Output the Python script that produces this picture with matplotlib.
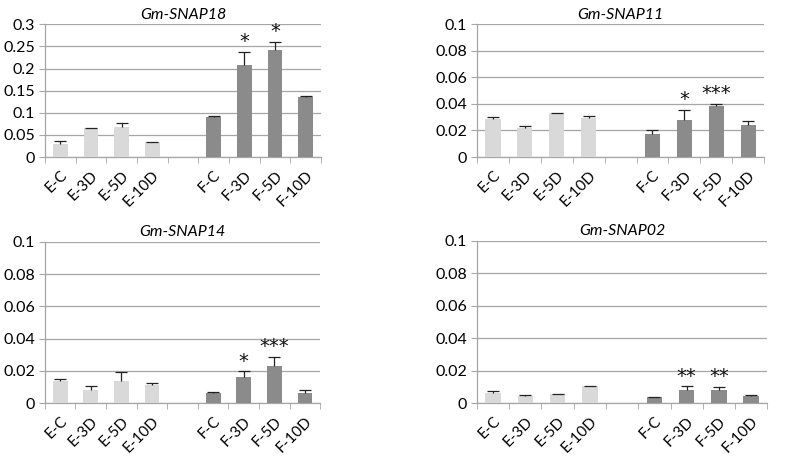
import numpy as np
import matplotlib.pyplot as plt

plt.rcParams['font.family'] = ['Lato', 'DejaVu Sans']

labels = ['E-C', 'E-3D', 'E-5D', 'E-10D', '', 'F-C', 'F-3D', 'F-5D', 'F-10D']

snap18 = [0.030, 0.0645, 0.068, 0.033, np.nan, 0.0915, 0.209, 0.2415, 0.136]
snap18_err = [0.006, 0.001, 0.0078, 0.002, 0, 0.001, 0.029, 0.018, 0.001]
snap11 = [0.0288, 0.022, 0.0328, 0.0295, np.nan, 0.017, 0.0278, 0.0388, 0.024]
snap11_err = [0.0012, 0.0015, 0.0003, 0.0015, 0, 0.003, 0.0077, 0.0012, 0.0035]
snap14 = [0.014, 0.0079, 0.0137, 0.0114, np.nan, 0.0062, 0.0164, 0.0228, 0.0064]
snap14_err = [0.0007, 0.0025, 0.0053, 0.0008, 0, 0.0006, 0.0033, 0.0056, 0.0015]
snap02 = [0.006, 0.0045, 0.0055, 0.0103, np.nan, 0.0035, 0.008, 0.008, 0.0045]
snap02_err = [0.0016, 0.0002, 0.0003, 0.0003, 0, 0.0002, 0.0023, 0.0019, 0.0002]

stars18 = ['', '', '', '', '', '', '*', '*', '']
stars11 = ['', '', '', '', '', '', '*', '***', '']
stars14 = ['', '', '', '', '', '', '*', '***', '']
stars02 = ['', '', '', '', '', '', '**', '**', '']

light = '#d9d9d9'
dark = '#8b8b8b'
grid_c = '#a6a6a6'

panels = [
    ('Gm-SNAP18', snap18, snap18_err, stars18, 0.3, 0.05, [0.057, 0.663, 0.351, 0.285]),
    ('Gm-SNAP11', snap11, snap11_err, stars11, 0.1, 0.02, [0.606, 0.663, 0.365, 0.285]),
    ('Gm-SNAP14', snap14, snap14_err, stars14, 0.1, 0.02, [0.057, 0.135, 0.350, 0.346]),
    ('Gm-SNAP02', snap02, snap02_err, stars02, 0.1, 0.02, [0.606, 0.135, 0.369, 0.348]),
]

fig = plt.figure(figsize=(7.87, 4.66), dpi=100)

for title, vals, errs, stars, ymax, step, pos in panels:
    ax = fig.add_axes(pos)
    x = np.arange(len(labels))
    vals = np.array(vals)
    errs = np.array(errs)
    colors = [light] * 4 + [light] + [dark] * 4
    ok = ~np.isnan(vals)
    ax.bar(x[ok], vals[ok], width=0.48, color=np.array(colors)[ok],
           edgecolor='none', zorder=3)
    eb = ax.errorbar(x[ok], vals[ok], yerr=[np.zeros(ok.sum()), errs[ok]],
                     fmt='none', ecolor='#222222', elinewidth=0.9, capsize=4,
                     capthick=0.9, zorder=4)
    # only the upper cap, like excel's "plus" error bars
    eb[1][0].set_visible(False)
    for xi, v, e, s in zip(x, vals, errs, stars):
        if s:
            ax.text(xi, v + e + ymax * 0.005, s, ha='center', va='bottom',
                    fontsize=14, family='DejaVu Sans', color='#111111', zorder=5)

    ax.set_xlim(-0.5, len(labels) - 0.5)
    ax.set_ylim(0, ymax)
    yt = np.arange(0, ymax + step / 2, step)
    ax.set_yticks(yt)
    ax.set_yticklabels(['0' if t == 0 else ('%g' % round(t, 3)) for t in yt],
                       fontsize=11.5)
    ax.yaxis.grid(True, color=grid_c, linewidth=0.9, zorder=0)
    ax.set_axisbelow(True)

    ax.set_xticks(x)
    ax.set_xticklabels(labels, rotation=45, ha='right', rotation_mode='anchor',
                       fontsize=11)
    ax.set_xticks(np.arange(-0.5, len(labels)), minor=True)
    ax.tick_params(axis='x', which='major', length=0, pad=8)
    ax.tick_params(axis='x', which='minor', length=4, color=grid_c, direction='out')
    ax.tick_params(axis='y', length=4, color=grid_c, pad=3)

    for side in ['top', 'right']:
        ax.spines[side].set_visible(False)
    for side in ['left', 'bottom']:
        ax.spines[side].set_color(grid_c)
        ax.spines[side].set_linewidth(0.9)

    ax.set_title(title, fontstyle='italic', fontsize=11.5, pad=4)

fig.savefig('out.png', dpi=100)
